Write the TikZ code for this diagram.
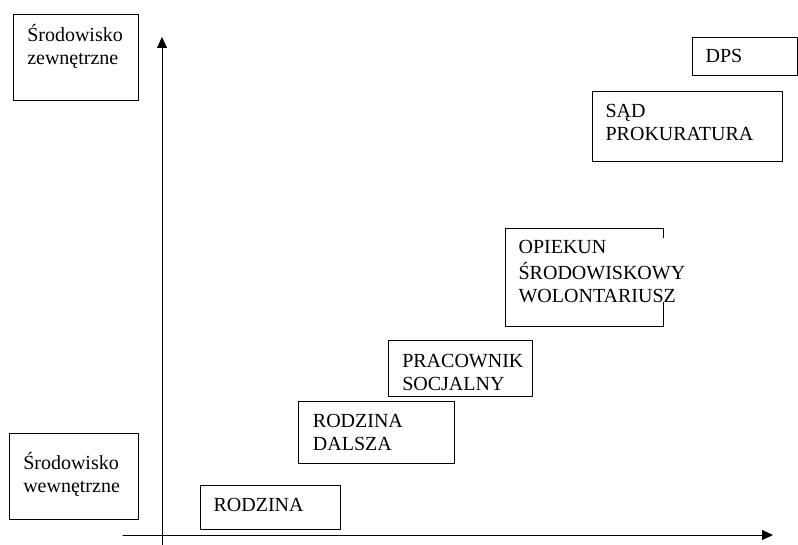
\documentclass[tikz,border=0pt]{standalone}
\usepackage{fontspec}
\setmainfont{Liberation Serif}
\usetikzlibrary{arrows.meta}
\usetikzlibrary{positioning}
\tikzset{
  pole/.style={draw=black,line width=0.75pt,rectangle,inner sep=0pt,anchor=north west},
  opis/.style={inner sep=0pt,fill=white,anchor=north west,align=left,font=\fontsize{15}{17.25}\selectfont}
}
\begin{document}
\begin{tikzpicture}[line cap=round,line join=round,>={Triangle[length=8.25pt,width=7.5pt]},x=0.75pt,y=-0.75pt]
\useasboundingbox (0,0) rectangle (798,545);
% osie
\coordinate (oy0) at (162,545);
\coordinate (oy1) at (162,37);
\coordinate (ox0) at (123,535);
\coordinate (ox1) at (773,535);
\draw[->,line width=0.75pt,color=black] (oy0) -- (oy1);
\draw[->,line width=0.75pt,color=black] (ox0) -- (ox1);
% pola
\node[pole,minimum width=125*0.75pt,minimum height=86*0.75pt] (zew) at (13,14) {};
\node[pole,minimum width=129*0.75pt,minimum height=86*0.75pt] (wew) at (9,433) {};
\node[pole,minimum width=140*0.75pt,minimum height=44*0.75pt] (rodz) at (200,485) {};
\node[pole,minimum width=156*0.75pt,minimum height=62*0.75pt] (dal) at (298,401) {};
\node[pole,minimum width=144*0.75pt,minimum height=56*0.75pt] (prac) at (388,340) {};
\node[pole,minimum width=158*0.75pt,minimum height=98*0.75pt] (opie) at (505,228) {};
\node[pole,minimum width=190*0.75pt,minimum height=70*0.75pt] (sad) at (592,91) {};
\node[pole,minimum width=105*0.75pt,minimum height=38*0.75pt] (dps) at (692,37) {};
% napisy
\node[opis] (tzew) at ([xshift=10.5pt,yshift=-7.5pt]zew.north west) {\strut Środowisko\\zewnętrzne};
\node[opis] (twew) at ([xshift=10.5pt,yshift=-14.25pt]wew.north west) {\strut Środowisko\\wewnętrzne};
\node[opis] (trodz) at ([xshift=10pt,yshift=-7.5pt]rodz.north west) {\strut RODZINA};
\node[opis] (tdal) at ([xshift=11pt,yshift=-7.5pt]dal.north west) {\strut RODZINA\\DALSZA};
\node[opis] (tprac) at ([xshift=10.5pt,yshift=-8pt]prac.north west) {\strut PRACOWNIK\\SOCJALNY};
\node[opis] (topie) at ([xshift=10pt,yshift=-7pt]opie.north west) {\strut OPIEKUN\\ŚRODOWISKOWY\\WOLONTARIUSZ};
\node[opis] (tsad) at ([xshift=10pt,yshift=-7.5pt]sad.north west) {\strut SĄD\\PROKURATURA};
\node[opis] (tdps) at ([xshift=10pt,yshift=-7pt]dps.north west) {\strut DPS};
\end{tikzpicture}
\end{document}
